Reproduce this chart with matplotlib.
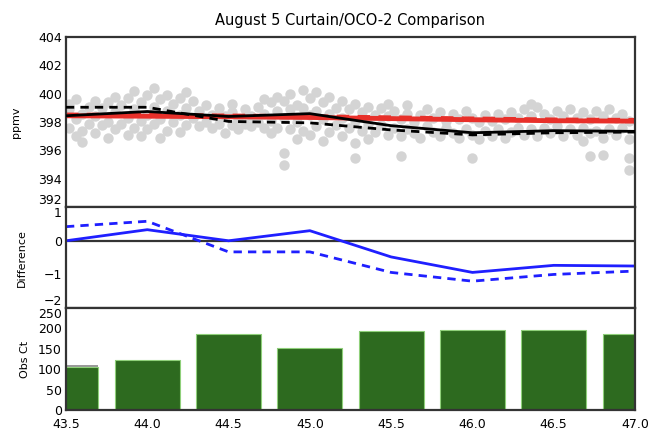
import matplotlib
matplotlib.use('Agg')
import matplotlib.pyplot as plt
import numpy as np

### Data

# latitude bins (panel centres)
lat_bins = [43.5, 44.0, 44.5, 45.0, 45.5, 46.0, 46.5, 47.0]

# XCO2 (ppmv)
oco2_mean = [398.45, 398.42, 398.38, 398.33, 398.25, 398.17, 398.10, 398.07]
curtain_solid = [398.45, 398.75, 398.40, 398.60, 397.75, 397.25, 397.40, 397.35]
curtain_dash = [399.05, 399.05, 398.05, 397.95, 397.45, 397.10, 397.25, 397.30]

# differences curtain - OCO-2
diff_solid = [0.0, 0.33, 0.0, 0.30, -0.48, -0.94, -0.73, -0.75]
diff_dash = [0.42, 0.58, -0.33, -0.33, -0.94, -1.20, -1.00, -0.90]

# soundings per bin
obs_all = [110, 122, 187, 152, 193, 197, 195, 187]
obs_good = [105, 122, 187, 152, 193, 197, 195, 187]

# individual OCO-2 soundings (lat, list of xco2)
soundings = [
    (43.52, [398.9, 397.6, 399.3]), (43.56, [398.2, 397.0, 399.6]),
    (43.60, [398.6, 397.4, 396.6]), (43.64, [399.1, 397.9]),
    (43.68, [398.4, 397.2, 399.5]), (43.72, [399.0, 397.8]),
    (43.76, [398.0, 396.9, 399.4]), (43.80, [398.7, 397.5, 399.8]),
    (43.84, [399.2, 397.9]), (43.88, [398.3, 397.1, 399.7]),
    (43.92, [398.9, 397.6, 400.2]), (43.96, [399.4, 398.1, 397.0]),
    (44.00, [398.5, 399.9, 397.5]), (44.04, [399.1, 397.9, 400.4]),
    (44.08, [398.2, 399.6, 396.9]), (44.12, [398.8, 397.4, 399.9]),
    (44.16, [399.3, 398.0]), (44.20, [398.5, 397.3, 399.7]),
    (44.24, [399.0, 397.8, 400.1]), (44.28, [398.3, 399.5]),
    (44.32, [398.8, 397.7]), (44.36, [399.2, 398.0]),
    (44.40, [398.5, 397.6]), (44.44, [399.0, 397.9]),
    (44.48, [398.4, 397.2]), (44.52, [398.7, 397.8, 399.3]),
    (44.56, [398.2, 397.5]), (44.60, [398.9, 397.9]),
    (44.64, [398.4, 397.7]), (44.68, [399.1, 398.0]),
    (44.72, [398.6, 397.6, 399.6]), (44.76, [399.4, 398.1, 397.2]),
    (44.80, [398.8, 399.8, 397.6]), (44.84, [399.5, 398.3, 395.8, 395.0]),
    (44.88, [400.0, 398.9, 397.5]), (44.92, [399.2, 398.0, 396.8]),
    (44.96, [400.3, 399.0, 397.4]), (45.00, [399.7, 398.5, 397.1]),
    (45.04, [400.1, 398.8, 397.7]), (45.08, [399.4, 398.2, 396.7]),
    (45.12, [399.8, 398.6, 397.3]), (45.16, [399.0, 397.8]),
    (45.20, [399.5, 398.3, 397.0]), (45.24, [398.9, 397.6]),
    (45.28, [399.3, 398.1, 396.5, 395.5]), (45.32, [398.7, 397.4]),
    (45.36, [399.1, 397.9, 396.8]), (45.40, [398.5, 397.3]),
    (45.44, [399.0, 397.8]), (45.48, [398.4, 397.1, 399.3]),
    (45.52, [398.8, 397.6]), (45.56, [398.2, 397.0, 395.6]),
    (45.60, [398.6, 397.5, 399.2]), (45.64, [398.0, 397.2]),
    (45.68, [398.5, 396.9]), (45.72, [398.9, 397.7]),
    (45.76, [398.3, 397.3]), (45.80, [398.7, 397.0]),
    (45.84, [398.1, 397.6]), (45.88, [398.6, 397.2]),
    (45.92, [398.2, 396.9]), (45.96, [398.8, 397.5]),
    (46.00, [398.3, 397.1, 395.5]), (46.04, [398.0, 396.8]),
    (46.08, [398.5, 397.4]), (46.12, [398.1, 397.0]),
    (46.16, [398.6, 397.5]), (46.20, [398.2, 396.9]),
    (46.24, [398.7, 397.3]), (46.28, [398.3, 397.6]),
    (46.32, [398.9, 397.1]), (46.36, [398.4, 397.5, 399.3]),
    (46.40, [399.1, 397.0]), (46.44, [398.6, 397.6]),
    (46.48, [398.2, 397.2]), (46.52, [398.8, 397.7]),
    (46.56, [398.4, 397.0]), (46.60, [398.9, 397.5]),
    (46.64, [398.3, 397.1]), (46.68, [398.7, 397.6, 396.7]),
    (46.72, [398.2, 397.2, 395.6]), (46.76, [398.8, 397.4]),
    (46.80, [398.4, 396.9, 395.7]), (46.84, [398.9, 397.5]),
    (46.88, [398.3, 397.1]), (46.92, [398.6, 397.6]),
    (46.96, [398.1, 396.8, 395.5, 394.6]),
]
snd_lat = [lat for lat, vals in soundings for v in vals]
snd_co2 = [v for lat, vals in soundings for v in vals]

### Figure
fig = plt.figure(figsize=(6.53, 4.37), dpi=100)
left, width = 0.101, 0.8715
ax1 = fig.add_axes([left, 0.526, width, 0.389])
ax2 = fig.add_axes([left, 0.295, width, 0.231])
ax3 = fig.add_axes([left, 0.062, width, 0.233])

frame_col = '#333333'
for ax in (ax1, ax2, ax3):
    ax.set_xlim(43.5, 47.0)
    for s in ax.spines.values():
        s.set_linewidth(1.6)
        s.set_color(frame_col)
    ax.tick_params(length=0, labelsize=9, pad=3)

# top panel
ax1.plot(snd_lat, snd_co2, 'o', color='#d4d4d4', markersize=7.5, markeredgewidth=0, zorder=1)
ax1.plot(lat_bins, oco2_mean, color='#e8302a', linewidth=3.5, zorder=2)
ax1.plot(lat_bins, [v + 0.08 for v in oco2_mean], color='#e8302a', linewidth=3,
         dashes=(3, 2), zorder=2)
ax1.plot(lat_bins, curtain_solid, color='black', linewidth=2, zorder=3)
ax1.plot(lat_bins, curtain_dash, color='black', linewidth=2, dashes=(3, 2.2), zorder=3)
ax1.set_ylim(392, 404)
ax1.set_yticks(np.arange(392, 405, 2))
ax1.set_xticklabels([])
ax1.set_ylabel('ppmv', fontsize=8, labelpad=12)
ax1.set_title('August 5 Curtain/OCO-2 Comparison', fontsize=10.5, pad=9)

# middle panel
ax2.axhline(0, color=frame_col, linewidth=1.6)
ax2.plot(lat_bins, diff_solid, color='#1f1fff', linewidth=2)
ax2.plot(lat_bins, diff_dash, color='#1f1fff', linewidth=2, dashes=(3, 2.2))
ax2.set_ylim(-2, 1)
ax2.set_yticks([-2, -1, 0, 1])
ax2.set_xticklabels([])
ax2.set_ylabel('Difference', fontsize=8, labelpad=12)

# bottom panel
ax3.bar(lat_bins, obs_all, width=0.4, color='#9a9a9a', zorder=1)
ax3.bar(lat_bins, obs_good, width=0.4, color='#2d6a1f', edgecolor='#8fd07a',
        linewidth=0.8, zorder=2)
ax3.set_ylim(0, 250)
ax3.set_yticks(np.arange(0, 251, 50))
ax3.set_xticks(lat_bins)
ax3.set_xticklabels([f'{v:.1f}' for v in lat_bins])
ax3.tick_params(axis='x', pad=6)
ax3.set_ylabel('Obs Ct', fontsize=8, labelpad=6)

# keep the shared-edge labels of stacked panels apart
for ax in (ax1, ax2):
    ax.get_yticklabels()[0].set_va('bottom')
for ax in (ax2, ax3):
    ax.get_yticklabels()[-1].set_va('top')

fig.align_ylabels([ax1, ax2, ax3])
plt.savefig('out.png', dpi=100)
